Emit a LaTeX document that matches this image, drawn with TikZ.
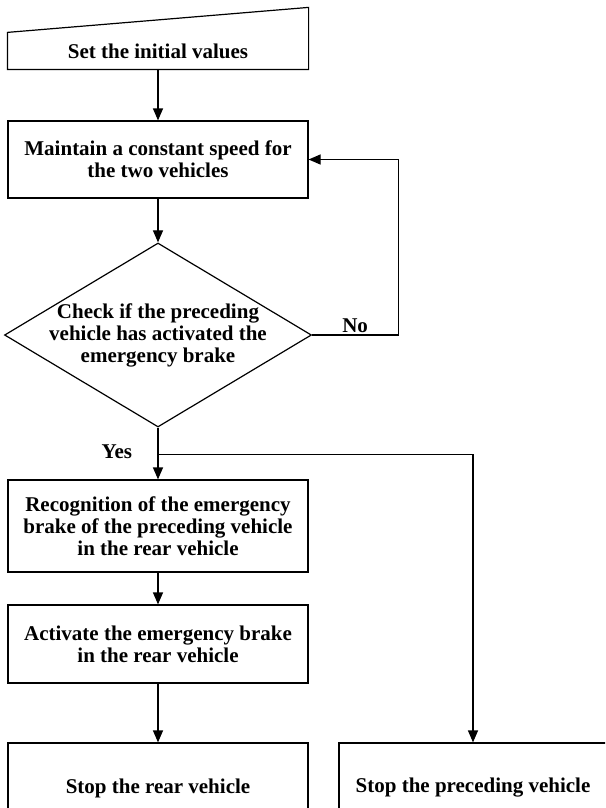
\documentclass[tikz,border=0pt]{standalone}
\usepackage{fontspec}
\setmainfont{Liberation Serif}
\usetikzlibrary{arrows.meta,positioning,shapes.geometric}

\begin{document}
\begin{tikzpicture}[->,>={Triangle[length=12pt,width=10pt]},x=1pt,y=-1pt,line width=1.2pt,
  font=\bfseries\fontsize{21}{22}\selectfont,
  box/.style={draw,rectangle,minimum width=300pt,align=center,inner sep=0pt}]
  \clip[use as bounding box] (0,0) rectangle (605,808);
  \node (A) [minimum width=300pt,minimum height=36pt,inner sep=0pt] at (158,51) {Set the initial values};
  \node (B) [box,minimum height=77pt,below of=A,node distance=108.5pt] {Maintain a constant speed for\\the two vehicles};
  \node (C) [draw,diamond,aspect=1.67,inner sep=-20pt,minimum width=307pt,minimum height=184pt,align=center,below of=B,node distance=175.5pt] {Check if the preceding\\vehicle has activated the\\emergency brake};
  \node (D) [box,minimum height=92pt,below of=C,node distance=191pt] {Recognition of the emergency\\brake of the preceding vehicle\\in the rear vehicle};
  \node (E) [box,minimum height=78pt,below of=D,node distance=118pt] {Activate the emergency brake\\in the rear vehicle};
  \node (F) [box,minimum height=90pt,below of=E,node distance=144pt] {Stop the rear vehicle};
  \node (G) [box,minimum width=268pt,minimum height=90pt,right of=F,node distance=315pt] {Stop the preceding vehicle};
  \coordinate (S) at ([yshift=-27pt]C.south);
  \coordinate (N) at ([xshift=86pt]C.east);
\draw[-] (A.south west) -- (A.north west) -- ([yshift=25pt]A.north east) -- (A.south east) -- cycle;
\path (A) edge (B)
      (B) edge (C)
      (D) edge (E)
      (E) edge (F);
\draw (C) -- node[left=22pt,pos=0.47]{Yes} (D);
\draw (S) -| (G);
\draw (C.east) -- node[above,inner sep=2pt]{No} (N) |- (B.east);
\end{tikzpicture}
\end{document}
